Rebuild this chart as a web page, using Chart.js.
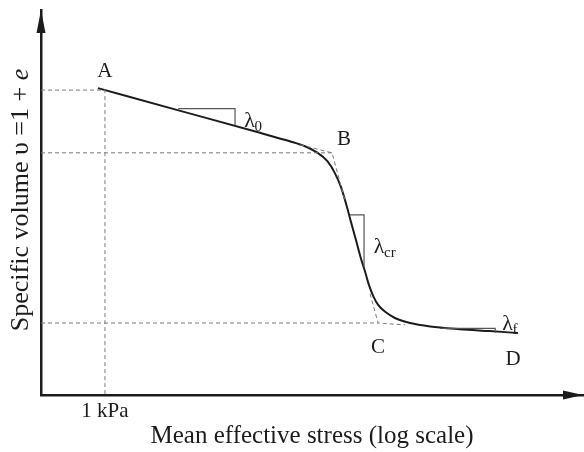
<!DOCTYPE html>
<html>
<head>
<meta charset="utf-8">
<script src="https://cdn.jsdelivr.net/npm/chart.js@4/dist/chart.umd.min.js"></script>
<style>
  body { margin: 0; background: #fff; }
  #wrap { width: 584px; height: 452px; }
</style>
</head>
<body>
<div id="wrap"><canvas id="chart" width="584" height="452"></canvas></div>
<script>
// compression curve, in log-stress units (x) and specific volume units (y), both 0..100
const curveX = [10.5, 25.7, 40.4, 45.9, 48.7, 50.9, 52.8, 54.2, 55.4, 56.3, 57.2, 58.1, 59.0, 59.8, 60.5, 61.3, 62.2, 63.5, 65.3, 68.1, 71.8, 77.3, 82.8, 88.0];
const curveY = [79.7, 73.8, 68.1, 65.9, 64.6, 63.0, 60.8, 57.7, 53.8, 49.6, 44.9, 40.3, 35.6, 32.0, 28.6, 25.7, 23.4, 21.6, 20.0, 18.7, 17.8, 17.1, 16.6, 16.1];

// stress where the 1 kPa mark sits
const kPaTick = 11.8;
const tickLabels = ["1 kPa"];

// dashed construction lines
const guideA = [[0, 79.2], [11.8, 79.2], [11.8, 0]];
const guideB = [[0, 62.9], [53.7, 62.9]];
const tangentB = [[47.8, 65.0], [53.7, 62.9], [56.1, 50.4]];
const guideC = [[0, 18.7], [62.2, 18.7]];
const tangentC = [[60.7, 26.3], [62.2, 18.7], [67.2, 18.2]];

// slope triangles
const slope0 = [[25.3, 74.4], [35.8, 74.4], [35.8, 70.1]];
const slopeCr = [[57.0, 46.8], [59.6, 46.8], [59.6, 33.3]];
const slopeF = [[73.6, 17.3], [83.8, 17.3], [83.8, 16.2]];

// point labels (baseline positions)
const pointNames = ["A", "B", "C", "D"];
const pointX = [11.8, 55.9, 62.2, 87.1];
const pointY = [82.6, 64.9, 10.9, 7.8];

// slope labels: lambda with subscript (baseline positions)
const slopeSubs = ["0", "cr", "f"];
const slopeX = [38.5, 62.4, 86.1];
const slopeY = [69.6, 36.9, 16.9];

const serif = "'Liberation Serif', 'Times New Roman', serif";
const ink = "#1c1c1c";

function pts(list) {
    return list.map(p => ({ x: p[0], y: p[1] }));
}

function dashed(list) {
    return {
        data: pts(list),
        borderColor: "#7a7a7a",
        borderWidth: 1,
        borderDash: [4, 3],
        pointRadius: 0,
        tension: 0
    };
}

function triangle(list) {
    return {
        data: pts(list),
        borderColor: "#555",
        borderWidth: 1.2,
        pointRadius: 0,
        tension: 0
    };
}

const annotations = {
    id: "annotations",
    afterDraw(chart) {
        const ctx = chart.ctx;
        const xs = chart.scales.x;
        const ys = chart.scales.y;
        const area = chart.chartArea;
        ctx.save();

        // arrow heads on the axes
        ctx.fillStyle = ink;
        ctx.beginPath();
        ctx.moveTo(area.left, area.top);
        ctx.lineTo(area.left - 4.5, area.top + 23);
        ctx.lineTo(area.left + 4.5, area.top + 23);
        ctx.closePath();
        ctx.fill();
        ctx.beginPath();
        ctx.moveTo(area.right, area.bottom);
        ctx.lineTo(area.right - 20, area.bottom - 4.5);
        ctx.lineTo(area.right - 20, area.bottom + 4.5);
        ctx.closePath();
        ctx.fill();

        // point letters
        ctx.fillStyle = ink;
        ctx.font = "21px " + serif;
        ctx.textAlign = "center";
        ctx.textBaseline = "alphabetic";
        pointNames.forEach((name, i) => {
            ctx.fillText(name, xs.getPixelForValue(pointX[i]), ys.getPixelForValue(pointY[i]));
        });

        // lambda labels
        slopeSubs.forEach((sub, i) => {
            const x = xs.getPixelForValue(slopeX[i]);
            const y = ys.getPixelForValue(slopeY[i]);
            ctx.font = "22px " + serif;
            ctx.textAlign = "left";
            const w = ctx.measureText("λ").width;
            ctx.fillText("λ", x - w / 2, y);
            ctx.font = "15px " + serif;
            ctx.fillText(sub, x + w / 2 - 0.5, y + 4);
        });

        // y axis title with italic e
        const parts = [["Specific volume υ =1 + ", "26px " + serif], ["e", "italic 26px " + serif]];
        let total = 0;
        parts.forEach(p => { ctx.font = p[1]; total += ctx.measureText(p[0]).width; });
        ctx.translate(28, 200);
        ctx.rotate(-Math.PI / 2);
        ctx.textAlign = "left";
        let cx = -total / 2;
        parts.forEach(p => {
            ctx.font = p[1];
            ctx.fillText(p[0], cx, 0);
            cx += ctx.measureText(p[0]).width;
        });
        ctx.restore();
    }
};

new Chart(document.getElementById("chart"), {
    type: "line",
    data: {
        datasets: [
            dashed(guideA),
            dashed(guideB),
            dashed(tangentB),
            dashed(guideC),
            dashed(tangentC),
            triangle(slope0),
            triangle(slopeCr),
            triangle(slopeF),
            {
                data: curveX.map((x, i) => ({ x: x, y: curveY[i] })),
                borderColor: ink,
                borderWidth: 2,
                pointRadius: 0,
                cubicInterpolationMode: "monotone"
            }
        ]
    },
    options: {
        responsive: false,
        animation: false,
        devicePixelRatio: 1,
        layout: { padding: { left: 41, top: 10, right: 1, bottom: 0 } },
        plugins: { legend: { display: false }, tooltip: { enabled: false } },
        scales: {
            x: {
                type: "linear",
                min: 0,
                max: 100,
                afterBuildTicks: scale => { scale.ticks = [{ value: kPaTick }]; },
                grid: { display: false, drawTicks: false },
                border: { display: true, color: ink, width: 2.5 },
                ticks: {
                    padding: 6,
                    color: ink,
                    font: { family: serif, size: 21, lineHeight: 1 },
                    maxRotation: 0,
                    callback: () => tickLabels[0]
                },
                title: {
                    display: true,
                    text: "Mean effective stress (log scale)",
                    color: ink,
                    font: { family: serif, size: 25, lineHeight: 0.64 },
                    padding: { top: 0, bottom: 8 }
                }
            },
            y: {
                type: "linear",
                min: 0,
                max: 100,
                grid: { display: false, drawTicks: false },
                border: { display: true, color: ink, width: 2.5 },
                ticks: { display: false }
            }
        }
    },
    plugins: [annotations]
});
</script>
</body>
</html>
